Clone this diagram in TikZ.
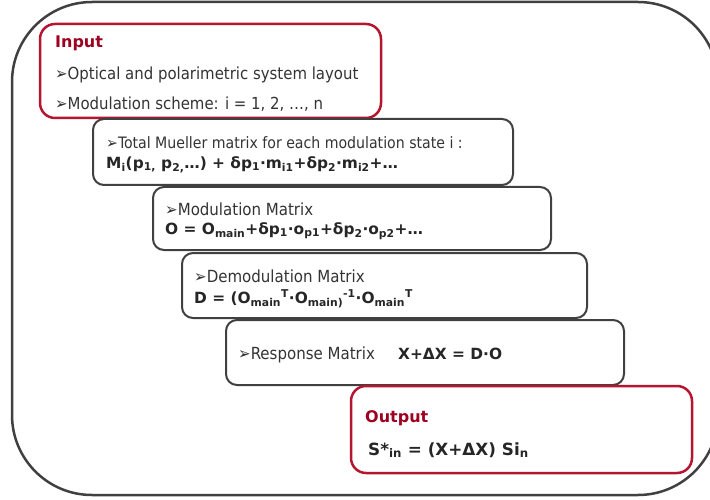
\documentclass[tikz,border=0pt]{standalone}
\usepackage{fontspec}
\setmainfont{DejaVu Sans Condensed}[BoldFont={DejaVu Sans Bold}]
\usepackage{xcolor}
\usepackage{tikz}
\usetikzlibrary{positioning}

\definecolor{framegray}{RGB}{64,64,64}
\definecolor{boxred}{RGB}{180,22,48}
\definecolor{titlered}{RGB}{158,0,34}
\definecolor{textgray}{RGB}{52,52,52}
\newcommand{\arrowbullet}{➢}

\begin{document}
\begin{tikzpicture}[x=1pt, y=-1pt,
    framebox/.style={draw=framegray, line width=2.5pt, rounded corners=80pt},
    graybox/.style={fill=white, draw=framegray, line width=2pt, rounded corners=11pt},
    redbox/.style={fill=white, draw=boxred, line width=2.5pt, rounded corners=15pt},
    bigtext/.style={anchor=base west, inner sep=0pt, text=textgray, font=\fontsize{16.6}{20}\selectfont},
    titletext/.style={bigtext, text=titlered, font=\fontsize{16}{20}\selectfont\bfseries},
    boxtext/.style={anchor=base west, inner sep=0pt, text=textgray, font=\fontsize{16.7}{20}\selectfont},
    boxeq/.style={boxtext, text=black!85, font=\fontsize{15.4}{20}\selectfont\bfseries}]
    \useasboundingbox (0,0) rectangle (710,500);
    \clip (0,0) rectangle (710,500);
    % outer frame
    \draw[framebox] (12,2) rectangle (718,495);
    % input
    \filldraw[redbox] (40,24) rectangle (381,118);
    \node[titletext] (input) at (55,48) {Input};
    \node[bigtext] (layout) at (55,80) {\arrowbullet Optical and polarimetric system layout};
    \node[bigtext] (scheme) at (55,110) {\arrowbullet Modulation scheme: i = 1, 2, …, n};
    % mueller matrix
    \filldraw[graybox] (93,119) rectangle (513,185);
    \node[boxtext, font=\fontsize{15.7}{20}\selectfont] (mueller) at (106,149)
        {\arrowbullet Total Mueller matrix for each modulation state i :};
    \node[boxeq] (muellereq) at (106,168)
        {M\textsubscript{i}(p\textsubscript{1,} p\textsubscript{2,}…) + δp\textsubscript{1}·m\textsubscript{i1}+δp\textsubscript{2}·m\textsubscript{i2}+…};
    % modulation matrix
    \filldraw[graybox] (153,187) rectangle (551,250);
    \node[boxtext] (modmat) at (165,215) {\arrowbullet Modulation Matrix};
    \node[boxeq] (modeq) at (165,234)
        {O = O\textsubscript{main}+δp\textsubscript{1}·o\textsubscript{p1}+δp\textsubscript{2}·o\textsubscript{p2}+…};
    % demodulation matrix
    \filldraw[graybox] (182,253) rectangle (587,318);
    \node[boxtext] (demodmat) at (194,282) {\arrowbullet Demodulation Matrix};
    \node[boxeq] (demodeq) at (194,303)
        {D = (O\textsubscript{main}\textsuperscript{T}·O\textsubscript{main)}\textsuperscript{-1}·O\textsubscript{main}\textsuperscript{T}};
    % response matrix
    \filldraw[graybox] (226,320) rectangle (624,385);
    \node[boxtext] (response) at (238,359) {\arrowbullet Response Matrix};
    \node[boxeq] (responseeq) at (398,359) {X+ΔX = D·O};
    % output
    \filldraw[redbox] (351,386) rectangle (692,473);
    \node[titletext] (output) at (365,422) {Output};
    \node[boxeq, font=\fontsize{16.8}{20}\selectfont\bfseries] (stokes) at (368,455)
        {S*\textsubscript{in} = (X+ΔX) Si\textsubscript{n}};
\end{tikzpicture}
\end{document}
